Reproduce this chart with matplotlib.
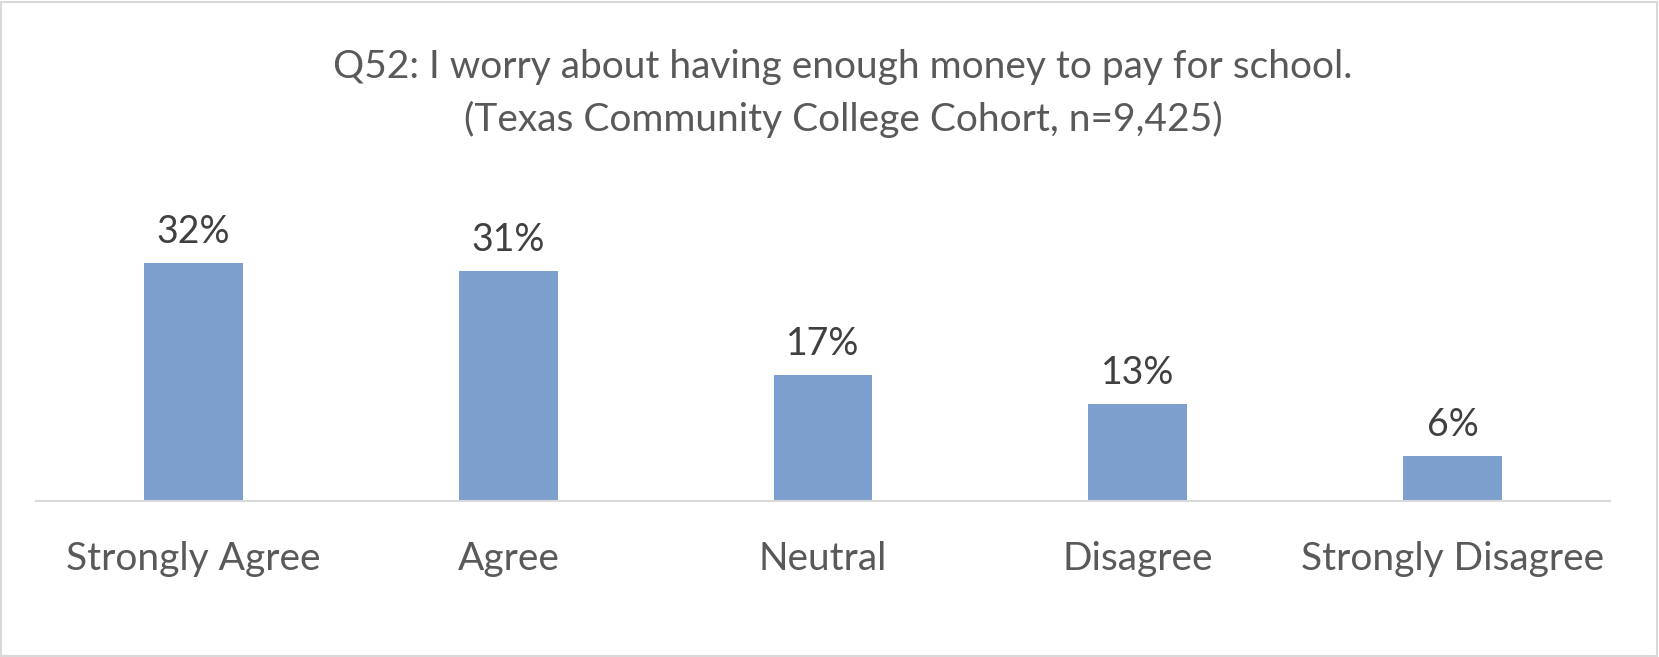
import matplotlib
matplotlib.use("Agg")
import matplotlib.pyplot as plt
from matplotlib.patches import Rectangle

categories = ["Strongly Agree", "Agree", "Neutral", "Disagree", "Strongly Disagree"]
percents = [32, 31, 17, 13, 6]
title_lines = ["Q52: I worry about having enough money to pay for school.",
               "(Texas Community College Cohort, n=9,425)"]

W, H = 1659, 657
plt.rcParams['font.family'] = ['Lato', 'DejaVu Sans']

fig = plt.figure(figsize=(W / 100, H / 100), dpi=100)
fig.patch.set_facecolor("white")

# plot area in pixels: baseline at 500.7, left 36.3, right 1609.8
left, right, base, top = 36.3, 1609.8, 500.7, 241.0
ax = fig.add_axes([left / W, (H - base) / H, (right - left) / W, (base - top) / H])

x = range(len(categories))
ax.bar(x, percents, width=0.314, color="#7C9FCD", zorder=2)
ax.set_xlim(-0.5, len(categories) - 0.5)
ax.set_ylim(0, 35)

for i, v in enumerate(percents):
    ax.annotate(f"{v}%", (i, v), xytext=(0, 20), textcoords="offset pixels",
                ha="center", va="baseline", fontsize=27, color="#404040")

ax.set_xticks(list(x))
ax.set_xticklabels(categories, fontsize=28, color="#595959")
ax.tick_params(axis="x", length=0, pad=50)
for lab in ax.get_xticklabels():
    lab.set_va("baseline")
ax.set_yticks([])
for s in ["top", "left", "right"]:
    ax.spines[s].set_visible(False)
ax.spines["bottom"].set_color("#D9D9D9")
ax.spines["bottom"].set_linewidth(1.5)

fig.text(843 / W, 1 - 78 / H, title_lines[0], ha="center", va="baseline",
         fontsize=28, color="#595959")
fig.text(843 / W, 1 - 131 / H, title_lines[1], ha="center", va="baseline",
         fontsize=28, color="#595959")

# light chart border
fig.add_artist(Rectangle((1 / W, 1 / H), 1 - 3 / W, 1 - 3 / H, transform=fig.transFigure,
                         fill=False, edgecolor="#D9D9D9", linewidth=1.5))

fig.savefig("out.png", dpi=100)
